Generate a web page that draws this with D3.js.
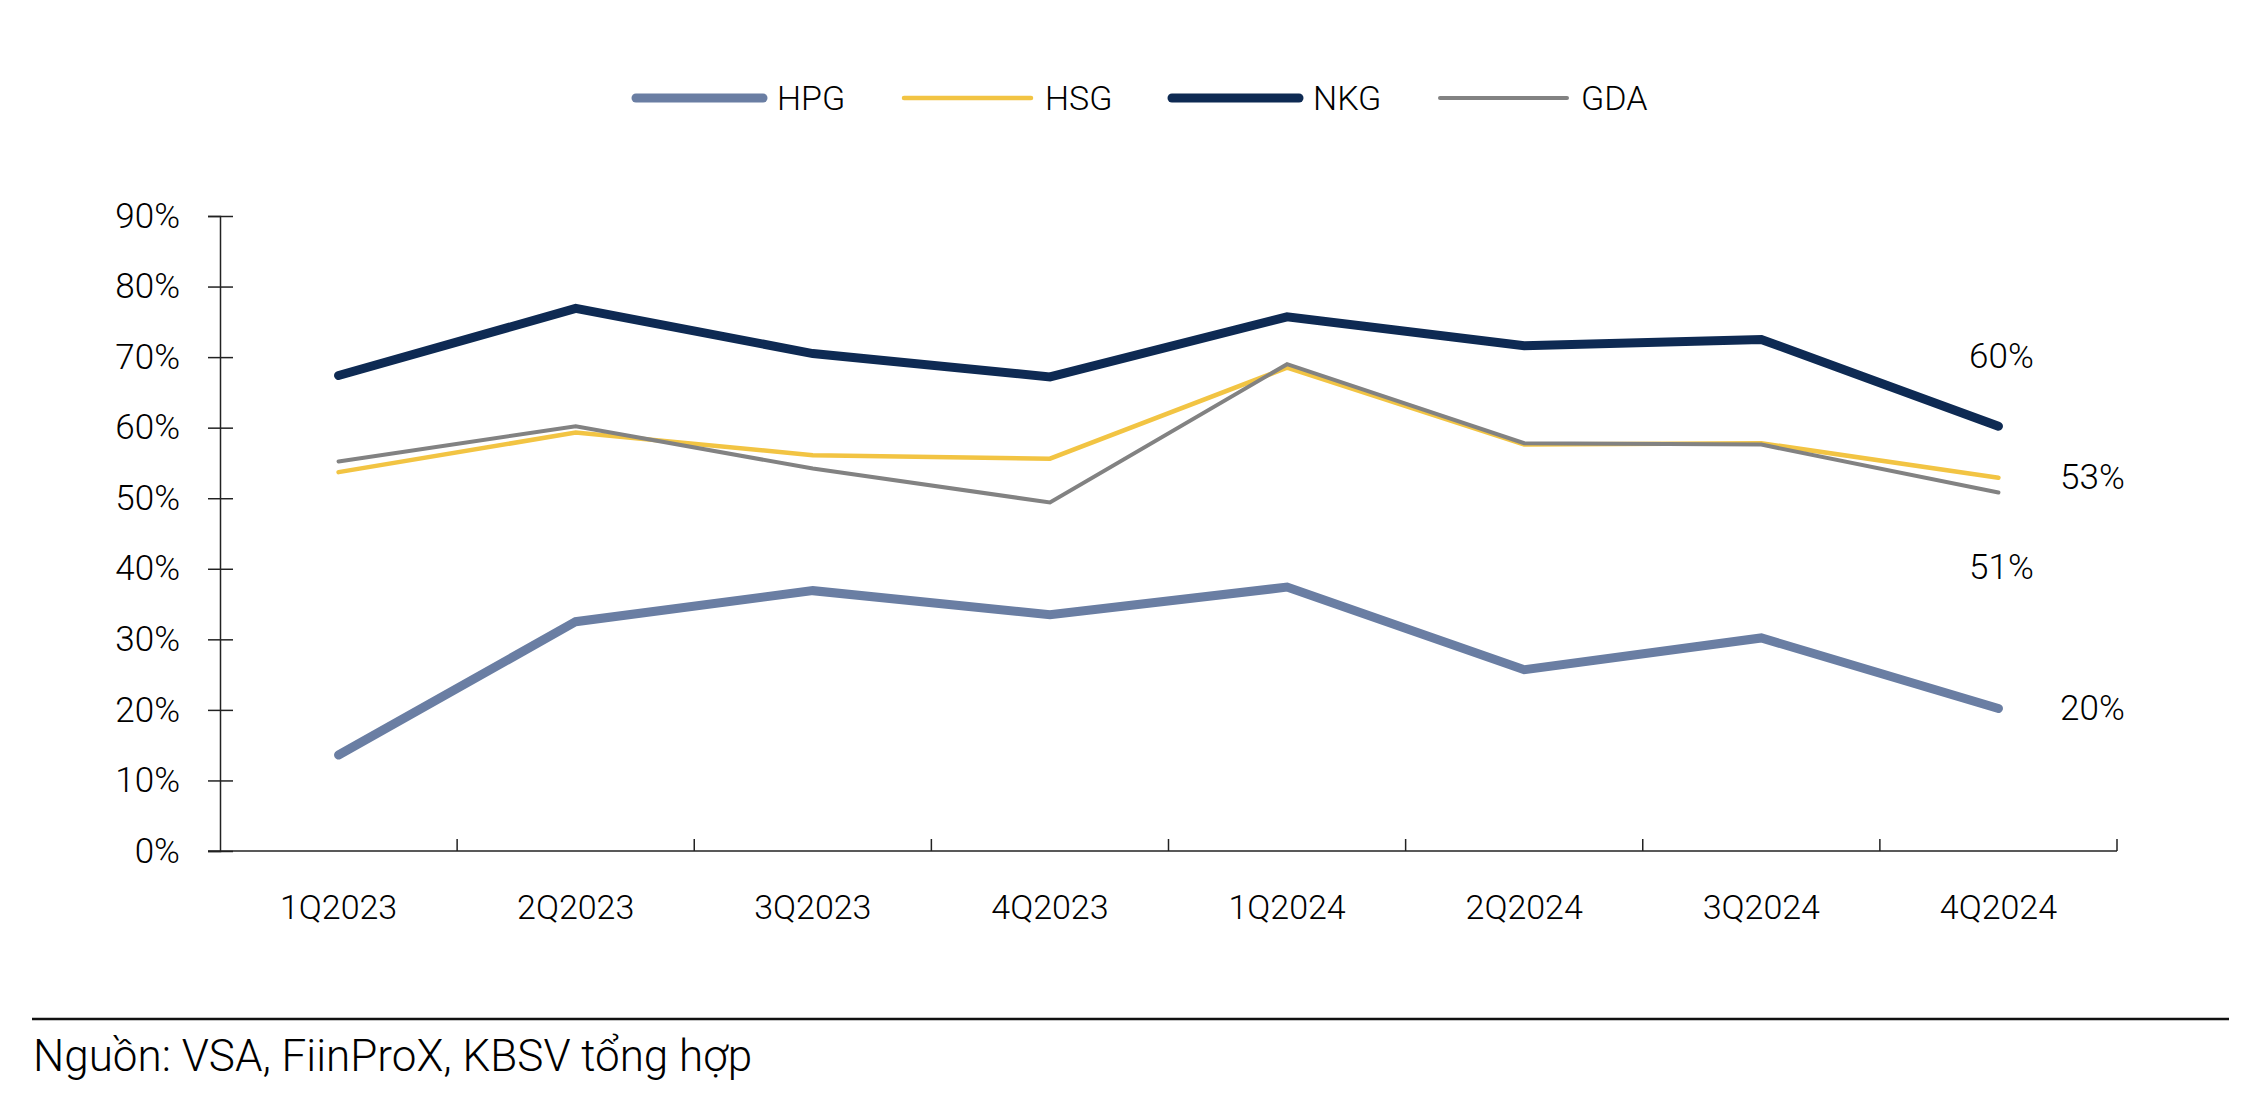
<!DOCTYPE html>
<html>
<head>
<meta charset="utf-8">
<script src="https://cdn.jsdelivr.net/npm/d3@7"></script>
<style>
  body { margin: 0; background: #fff; }
  text { font-family: Roboto, "Noto Sans", sans-serif; font-weight: 300; fill: #000; }
</style>
</head>
<body>
<div id="chart"></div>
<script>
const w = 2263;
const h = 1100;

// data
const quarters = ["1Q2023", "2Q2023", "3Q2023", "4Q2023", "1Q2024", "2Q2024", "3Q2024", "4Q2024"];
const seriesNames = ["HPG", "HSG", "NKG", "GDA"];
const hpg = [13.6, 32.5, 36.9, 33.5, 37.4, 25.7, 30.2, 20.2];
const hsg = [53.7, 59.3, 56.1, 55.6, 68.5, 57.6, 57.8, 52.9];
const nkg = [67.4, 76.9, 70.5, 67.2, 75.7, 71.6, 72.5, 60.2];
const gda = [55.2, 60.2, 54.2, 49.4, 69.0, 57.8, 57.6, 50.8];
const yTicks = [0, 10, 20, 30, 40, 50, 60, 70, 80, 90];
const sourceNote = "Nguồn: VSA, FiinProX, KBSV tổng hợp";

const values = { HPG: hpg, HSG: hsg, NKG: nkg, GDA: gda };

// styles per series
const colors = { HPG: "#6a7ea3", HSG: "#f2c443", NKG: "#0e2a53", GDA: "#828282" };
const widths = { HPG: 9, HSG: 4.5, NKG: 9, GDA: 4 };
// where the end label sits
const labelPlace = { HPG: "right", HSG: "right", NKG: "top", GDA: "bottom" };

const margin = { left: 220, right: 146, top: 216, bottom: 249 };

const svg = d3.select("#chart")
  .append("svg")
  .attr("width", w)
  .attr("height", h);

const x = d3.scaleBand()
  .domain(quarters)
  .range([margin.left, w - margin.right])
  .padding(0);

const y = d3.scaleLinear()
  .domain([0, 90])
  .range([h - margin.bottom, margin.top]);

// y axis
const yAxis = d3.axisLeft(y)
  .tickValues(yTicks)
  .tickFormat(d => d + "%")
  .tickSize(12)
  .tickPadding(28);

const gy = svg.append("g")
  .attr("transform", "translate(" + margin.left + ",0)")
  .call(yAxis);
gy.select(".domain").attr("stroke", "#222").attr("stroke-width", 1.5);
gy.selectAll(".tick line").attr("stroke", "#222").attr("stroke-width", 1.5).attr("x2", 13).attr("x1", -12);
gy.selectAll(".tick text")
  .style("font-family", "Roboto, sans-serif")
  .style("font-weight", 300)
  .style("font-size", "35px")
  .attr("fill", "#000");

// x axis
const gx = svg.append("g")
  .attr("transform", "translate(0," + y(0) + ")");
gx.append("line")
  .attr("x1", margin.left - 12)
  .attr("x2", w - margin.right)
  .attr("y1", 0).attr("y2", 0)
  .attr("stroke", "#222").attr("stroke-width", 1.5);
gx.selectAll(".xtick")
  .data(quarters.slice(1).concat(["end"]))
  .enter()
  .append("line")
  .attr("class", "xtick")
  .attr("x1", d => d === "end" ? w - margin.right : x(d))
  .attr("x2", d => d === "end" ? w - margin.right : x(d))
  .attr("y1", 0).attr("y2", -12)
  .attr("stroke", "#222").attr("stroke-width", 1.5);
gx.selectAll(".xlabel")
  .data(quarters)
  .enter()
  .append("text")
  .attr("class", "xlabel")
  .attr("x", d => x(d) + x.bandwidth() / 2)
  .attr("y", 68)
  .attr("text-anchor", "middle")
  .style("font-size", "34px")
  .text(d => d);

// lines
const line = d3.line()
  .x((d, i) => x(quarters[i]) + x.bandwidth() / 2)
  .y(d => y(d));

svg.append("g")
  .selectAll("path")
  .data(seriesNames)
  .enter()
  .append("path")
  .attr("d", d => line(values[d]))
  .attr("fill", "none")
  .attr("stroke", d => colors[d])
  .attr("stroke-width", d => widths[d])
  .attr("stroke-linecap", "round")
  .attr("stroke-linejoin", "miter");

// end labels
const last = quarters.length - 1;
svg.append("g")
  .selectAll("text")
  .data(seriesNames)
  .enter()
  .append("text")
  .attr("x", d => {
    const px = x(quarters[last]) + x.bandwidth() / 2;
    return labelPlace[d] === "right" ? px + 94 : px + 3;
  })
  .attr("y", d => {
    const py = y(values[d][last]);
    if (labelPlace[d] === "top") return py - 70;
    if (labelPlace[d] === "bottom") return py + 75;
    return py;
  })
  .attr("text-anchor", "middle")
  .attr("dominant-baseline", "central")
  .style("font-size", "35px")
  .text(d => Math.round(values[d][last]) + "%");

// legend
const legend = svg.append("g")
  .attr("transform", "translate(636,98)");
const item = legend.selectAll("g")
  .data(seriesNames)
  .enter()
  .append("g")
  .attr("transform", (d, i) => "translate(" + (i * 268) + ",0)");
item.append("line")
  .attr("x1", 0).attr("x2", 127)
  .attr("y1", 0).attr("y2", 0)
  .attr("stroke", d => colors[d])
  .attr("stroke-width", d => widths[d])
  .attr("stroke-linecap", "round");
item.append("text")
  .attr("x", 141)
  .attr("y", 0)
  .attr("dominant-baseline", "central")
  .style("font-size", "34px")
  .text(d => d);

// source
svg.append("line")
  .attr("x1", 32).attr("x2", 2229)
  .attr("y1", 1019).attr("y2", 1019)
  .attr("stroke", "#111").attr("stroke-width", 2.5);
svg.append("text")
  .attr("x", 33)
  .attr("y", 1071)
  .style("font-size", "44px")
  .text(sourceNote);
</script>
</body>
</html>
